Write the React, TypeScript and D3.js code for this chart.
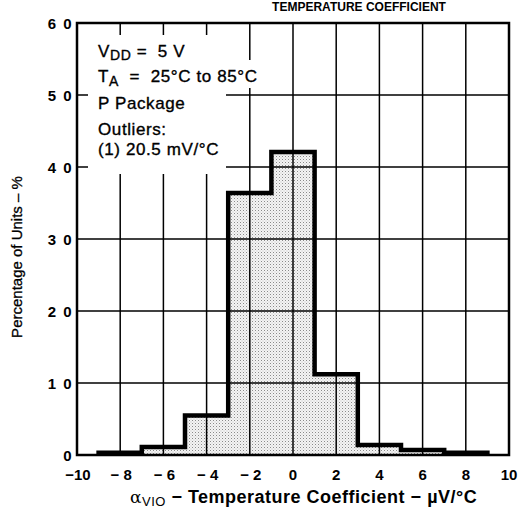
import * as d3 from "d3";

// histogram bins (µV/°C) and percentage of units in each
const binEdges = [-9, -7, -5, -3, -1, 1, 3, 5, 7, 9];
const percentages = [0.3, 1.1, 5.5, 36.4, 42.1, 11.2, 1.4, 0.7, 0.3];

const xTicks = [-10, -8, -6, -4, -2, 0, 2, 4, 6, 8, 10];
const xTickLabels = ["\u221210", "\u2212 8", "\u2212 6", "\u2212 4", "\u2212 2", "0", "2", "4", "6", "8", "10"];
const yTicks = [0, 10, 20, 30, 40, 50, 60];
const yTickLabels = ["0", "1 0", "2 0", "3 0", "4 0", "5 0", "6 0"];

const W = 520;
const H = 508;
const left = 77;
const right = 509;
const top = 23;
const bottom = 455;
const font = "'Liberation Sans', Arial, sans-serif";
const sp = "\u00a0";

export default function App() {
  const x = d3.scaleLinear().domain([-10, 10]).range([left, right]);
  const y = d3.scaleLinear().domain([0, 60]).range([bottom, top]);

  const pts: [number, number][] = [[binEdges[0], 0]];
  percentages.forEach((p, i) => pts.push([binEdges[i], p]));
  pts.push([binEdges[binEdges.length - 1], 0]);

  const outline = d3
    .line<[number, number]>()
    .x((d) => x(d[0]))
    .y((d) => y(d[1]))
    .curve(d3.curveStepAfter);
  const path = outline(pts) || "";

  // annotation box hides part of the grid
  const boxR = 226;
  const boxB = 174;

  return (
    <svg width={W} height={H} style={{ position: "absolute", left: 0, top: 0, background: "#fff" }}>
      <defs>
        <pattern id="stip" width="3" height="3" patternUnits="userSpaceOnUse">
          <rect width="3" height="3" fill="#f4f4f4" />
          <rect x="0" y="0" width="1" height="1" fill="#8a8a8a" />
          <rect x="1.5" y="1.5" width="1" height="1" fill="#c0c0c0" />
        </pattern>
      </defs>

      <text x={359} y={11} textAnchor="middle" fontFamily={font} fontWeight="bold" fontSize={12}>
        TEMPERATURE COEFFICIENT
      </text>

      {/* histogram fill */}
      <path d={path + "Z"} fill="url(#stip)" stroke="none" />

      {/* grid */}
      {xTicks.slice(1, -1).map((t) => {
        const hidden = x(t) < boxR;
        return (
          <g key={"gx" + t}>
            <line x1={x(t)} x2={x(t)} y1={hidden ? boxB : top} y2={bottom} stroke="#000" strokeWidth={1.5} />
            {hidden && <line x1={x(t)} x2={x(t)} y1={top} y2={top + 12} stroke="#000" strokeWidth={1.5} />}
          </g>
        );
      })}
      {yTicks.slice(1, -1).map((t) => {
        const hidden = y(t) < boxB;
        return (
          <g key={"gy" + t}>
            <line x1={hidden ? boxR : left} x2={right} y1={y(t)} y2={y(t)} stroke="#000" strokeWidth={1.5} />
            {hidden && <line x1={left} x2={left + 11} y1={y(t)} y2={y(t)} stroke="#000" strokeWidth={1.5} />}
          </g>
        );
      })}
      {/* the long annotation line covers a bit of the -2 gridline */}
      <rect x={boxR} y={60} width={36} height={28} fill="#fff" />

      {/* histogram outline */}
      <path d={path} fill="none" stroke="#000" strokeWidth={4.5} strokeLinejoin="miter" />

      {/* frame */}
      <rect x={left} y={top} width={right - left} height={bottom - top} fill="none" stroke="#000" strokeWidth={2.5} />

      {/* tick labels */}
      {xTicks.map((t, i) => (
        <text key={"xl" + t} x={x(t) + (t < 0 ? 1 : 0)} y={480} textAnchor="middle" fontFamily={font} fontWeight="bold" fontSize={15}>
          {xTickLabels[i]}
        </text>
      ))}
      {yTicks.map((t, i) => (
        <text key={"yl" + t} x={73} y={y(t) + 5.5} textAnchor="end" fontFamily={font} fontWeight="bold" fontSize={15} letterSpacing={1.5}>
          {yTickLabels[i]}
        </text>
      ))}

      {/* annotation */}
      <g fontFamily={font} fontSize={17} letterSpacing={0.6} fill="#000" stroke="#000" strokeWidth={0.35}>
        <text x={98} y={57}>
          V<tspan fontSize={14} dy={3}>DD</tspan>
          <tspan dy={-3}>{sp + "=" + sp + sp + "5 V"}</tspan>
        </text>
        <text x={98} y={82}>
          T<tspan fontSize={14} dy={4}>A</tspan>
          <tspan dy={-4}>{sp + sp + "=" + sp + sp + "25°C to 85°C"}</tspan>
        </text>
        <text x={98} y={109}>P Package</text>
        <text x={98} y={135}>Outliers:</text>
        <text x={98} y={155}>(1) 20.5 mV/°C</text>
      </g>

      {/* axis titles */}
      <text
        transform={`translate(22,257) rotate(-90)`}
        textAnchor="middle"
        fontFamily={font}
        fontSize={15}
        stroke="#000"
        strokeWidth={0.3}
      >
        Percentage of Units – %
      </text>
      <text x={130} y={503} fontFamily={font} fontSize={18} fontWeight="bold" letterSpacing={0.5}>
        <tspan fontFamily="'DejaVu Serif', serif" fontWeight="normal" fontSize={17}>α</tspan>
        <tspan fontSize={13} fontWeight="normal" dy={3}>VIO</tspan>
        <tspan dy={-3}>{sp + "− Temperature Coefficient − µV/°C"}</tspan>
      </text>
    </svg>
  );
}
